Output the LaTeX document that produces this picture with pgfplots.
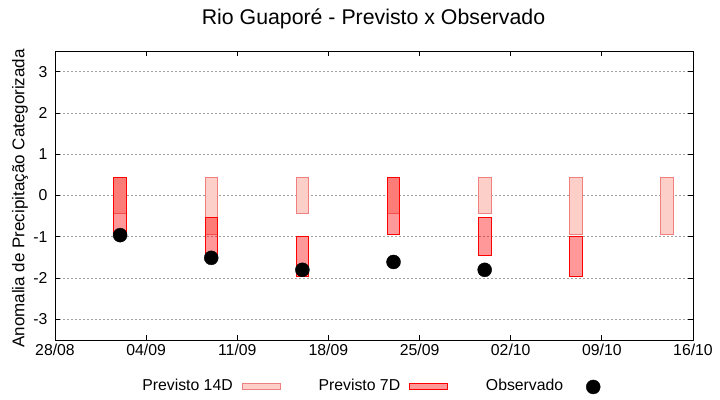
\documentclass[border=0pt]{standalone}
\usepackage{pgfplots}
\pgfplotsset{compat=1.18}
\usepackage{fontspec}
\setmainfont{Liberation Sans}
\definecolor{cfourfill}{RGB}{252,207,200}
\definecolor{cfouredge}{RGB}{240,128,128}
\definecolor{gridc}{RGB}{160,160,160}
\begin{document}
\begin{tikzpicture}
\useasboundingbox (0,0) rectangle (720bp,400bp);
\node[font=\fontsize{21.3bp}{25bp}\selectfont] at (373.5bp,381bp) {Rio Guaporé - Previsto x Observado};
\begin{axis}[
  at={(55bp,60bp)}, anchor=south west,
  scale only axis, width=638bp, height=289bp,
  xmin=0, xmax=49, ymin=-3.5, ymax=3.5,
  xtick={0,7,14,21,28,35,42,49},
  xticklabels={28/08,04/09,11/09,18/09,25/09,02/10,09/10,16/10},
  ytick={-3,-2,-1,0,1,2,3},
  ymajorgrids,
  grid style={gridc, dash pattern=on 2bp off 2bp, line width=0.8bp},
  tick align=inside, major tick length=5bp,
  tick style={black, line width=0.8bp},
  axis line style={line width=0.8bp},
  /pgf/number format/assume math mode=true,
  tick label style={font=\fontsize{15.8bp}{18bp}\selectfont},
  yticklabel style={xshift=-4bp},
  xticklabel style={yshift=-1bp},
  ylabel={Anomalia de Precipitação Categorizada},
  ylabel style={font=\fontsize{17bp}{20bp}\selectfont, at={(axis description cs:-0.0549,0.49)}, anchor=center},
  legend columns=3,
  legend plot pos=right,
  legend style={draw=none, fill=none, at={(axis description cs:0.502,-0.159)}, anchor=center,
    font=\fontsize{15.8bp}{18bp}\selectfont,
    /tikz/every odd column/.append style={column sep=7bp},
    /tikz/every even column/.append style={column sep=36bp}},
  fourteen/.style={fill=cfourfill, draw=cfouredge, line width=0.8bp, forget plot},
  seven/.style={fill=red, fill opacity=0.4, draw=red, draw opacity=1, line width=0.8bp, forget plot},
]
\addlegendimage{legend image code/.code={\draw[fill=cfourfill, draw=cfouredge, line width=0.8bp] (0bp,-3bp) rectangle (38bp,3bp);}}
\addlegendentry{Previsto 14D}
\addlegendimage{legend image code/.code={\draw[fill=red, fill opacity=0.4, draw=red, draw opacity=1, line width=0.8bp] (0bp,-3bp) rectangle (38bp,3bp);}}
\addlegendentry{Previsto 7D}
\addlegendimage{legend image code/.code={\path[draw=none, fill=none] (0bp,0bp) -- (38bp,0bp); \fill[black] (21bp,-1bp) circle (7bp);}}
\addlegendentry{Observado}
% Previsto 14D
\addplot[fourteen] coordinates {(4.52,-0.44) (5.48,-0.44) (5.48,0.44) (4.52,0.44)} -- cycle;
\addplot[fourteen] coordinates {(11.52,-0.95) (12.48,-0.95) (12.48,0.44) (11.52,0.44)} -- cycle;
\addplot[fourteen] coordinates {(18.52,-0.44) (19.48,-0.44) (19.48,0.44) (18.52,0.44)} -- cycle;
\addplot[fourteen] coordinates {(25.52,-0.44) (26.48,-0.44) (26.48,0.44) (25.52,0.44)} -- cycle;
\addplot[fourteen] coordinates {(32.52,-0.44) (33.48,-0.44) (33.48,0.44) (32.52,0.44)} -- cycle;
\addplot[fourteen] coordinates {(39.52,-0.95) (40.48,-0.95) (40.48,0.44) (39.52,0.44)} -- cycle;
\addplot[fourteen] coordinates {(46.52,-0.95) (47.48,-0.95) (47.48,0.44) (46.52,0.44)} -- cycle;
% Previsto 7D
\addplot[seven] coordinates {(4.52,-0.95) (5.48,-0.95) (5.48,0.44) (4.52,0.44)} -- cycle;
\addplot[seven] coordinates {(11.52,-1.44) (12.48,-1.44) (12.48,-0.52) (11.52,-0.52)} -- cycle;
\addplot[seven] coordinates {(18.52,-1.95) (19.48,-1.95) (19.48,-1.0) (18.52,-1.0)} -- cycle;
\addplot[seven] coordinates {(25.52,-0.95) (26.48,-0.95) (26.48,0.44) (25.52,0.44)} -- cycle;
\addplot[seven] coordinates {(32.52,-1.44) (33.48,-1.44) (33.48,-0.52) (32.52,-0.52)} -- cycle;
\addplot[seven] coordinates {(39.52,-1.95) (40.48,-1.95) (40.48,-1.0) (39.52,-1.0)} -- cycle;
% Observado
\addplot[only marks, mark=*, mark size=7bp, black, forget plot] coordinates {(5,-0.96) (12,-1.51) (19,-1.80) (26,-1.61) (33,-1.80)};
\end{axis}
\end{tikzpicture}
\end{document}
